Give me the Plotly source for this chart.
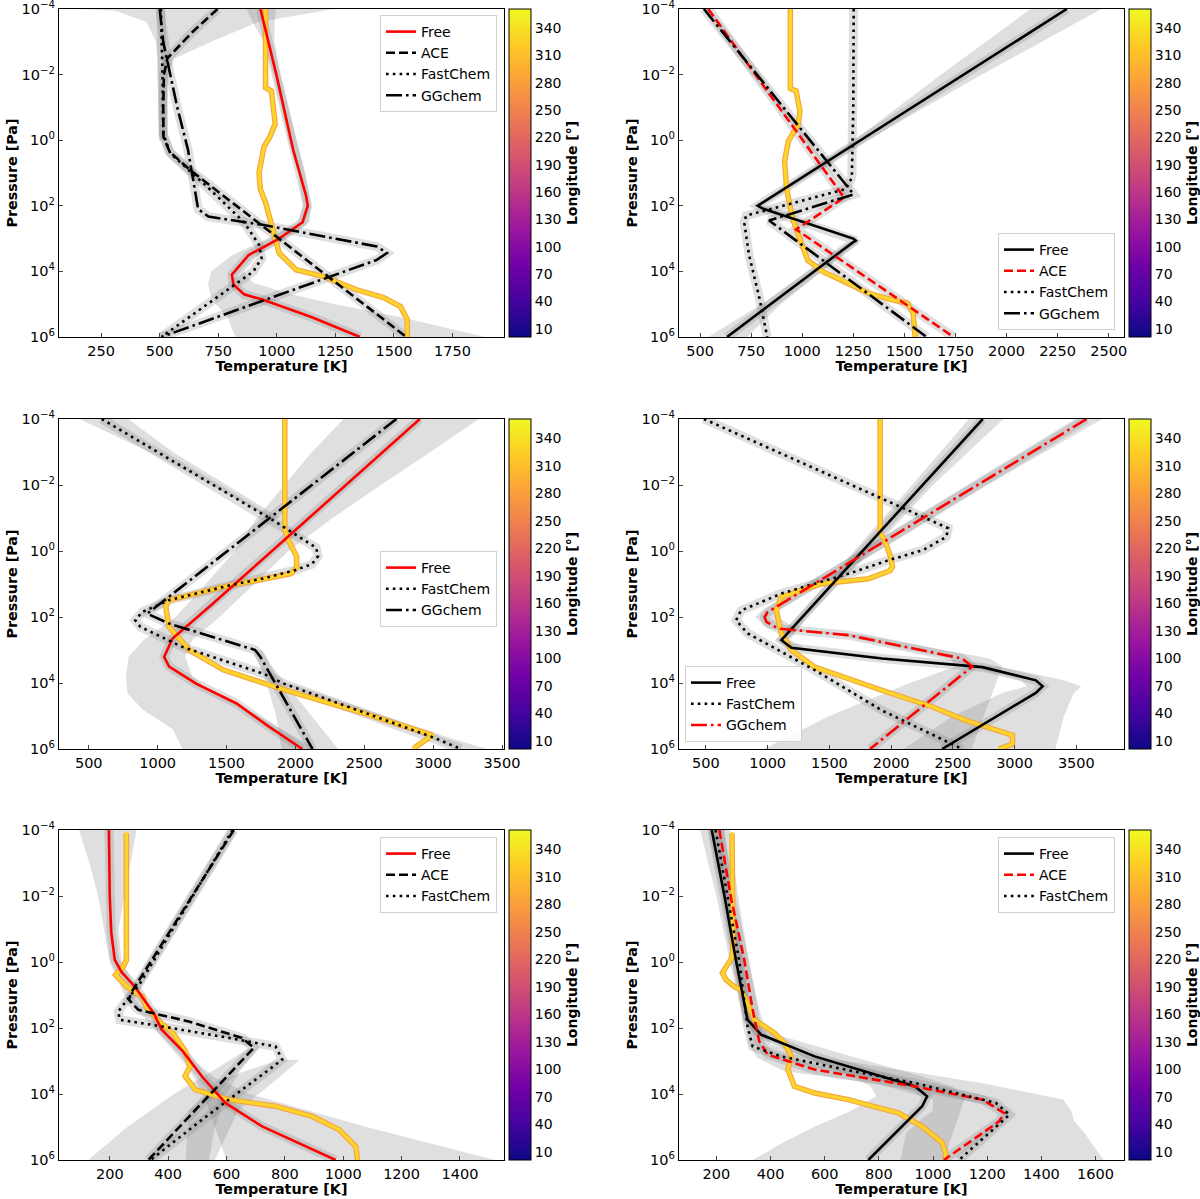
import numpy as np
import plotly.graph_objects as go
from plotly.subplots import make_subplots

# colourbar / axis ticks
CBAR_TICKS = [10, 40, 70, 100, 130, 160, 190, 220, 250, 280, 310, 340]
P_TICKS = [1e-4, 1e-2, 1e0, 1e2, 1e4, 1e6]
P_TICKTEXT = ['10<sup>−4</sup>', '10<sup>−2</sup>', '10<sup>0</sup>',
              '10<sup>2</sup>', '10<sup>4</sup>', '10<sup>6</sup>']

# ---------------- panel 1 (top left) ----------------
P1_FREE_T = [930, 998, 1070, 1108, 1125, 1132, 1110, 1010, 880, 808, 815, 860, 938, 1150, 1355]
P1_FREE_P = [-4, -2, 0.3, 1.3, 1.7, 2.0, 2.5, 3.0, 3.5, 4.1, 4.4, 4.7, 4.86, 5.4, 6.0]
P1_ACE_T = [747, 640, 533, 518, 515, 516, 542, 628, 1553]
P1_ACE_P = [-4, -3.3, -2.5, -2, -1, -0.1, 0.35, 0.9, 6.0]
P1_FAST_T = [505, 510, 512, 515, 545, 700, 860, 925, 935, 900, 507]
P1_FAST_P = [-4, -3, -2, -0.2, 0.4, 1.4, 2.5, 3.2, 3.6, 4.0, 6.0]
P1_GG_T = [500, 515, 530, 575, 621, 645, 664, 708, 938, 1427, 1470, 1427, 507]
P1_GG_P = [-4, -3, -2.5, -1, 0.3, 1.3, 2.1, 2.33, 2.58, 3.24, 3.44, 3.65, 6.0]
P1_OBS_T = [952, 952, 977, 985, 993, 970, 945, 924, 930, 952, 981, 1010, 1082, 1197, 1341, 1456, 1528, 1557, 1557]
P1_OBS_P = [-4, -1.6, -1.5, -1.0, -0.5, -0.1, 0.2, 1.0, 1.5, 1.9, 2.7, 3.44, 3.95, 4.15, 4.56, 4.8, 5.07, 5.47, 6.0]
P1_OBS_LON = 330
P1_BAND_ACE_P = [-4, -3.95, -3.6, -3.0, -2.5, -2.0, -1.0, 0]
P1_BAND_ACE_LO = [146, 311, 443, 484, 490, 492, 495, 497]
P1_BAND_ACE_HI = [1248, 1200, 920, 720, 565, 535, 530, 530]
P1_BAND_FREE_P = [-4, -3.5, -3, -2, 0, 1, 2, 2.5, 3, 3.5, 4, 4.35, 4.7, 5, 5.4, 6]
P1_BAND_FREE_LO = [870, 905, 945, 985, 1050, 1090, 1112, 1090, 960, 810, 720, 707, 715, 740, 790, 823]
P1_BAND_FREE_HI = [995, 990, 990, 1015, 1085, 1122, 1145, 1140, 1040, 920, 860, 900, 1060, 1250, 1530, 1890]

# ---------------- panel 2 (top right) ----------------
P2_FREE_T = [2295, 800, 782, 805, 1250, 1262, 1245, 632]
P2_FREE_P = [-4, 1.93, 2.0, 2.08, 3.0, 3.06, 3.13, 6.0]
P2_ACE_T = [540, 1205, 970, 1741]
P2_ACE_P = [-4, 1.75, 2.72, 6.0]
P2_FAST_T = [1252, 1250, 1243, 1214, 726, 716, 740, 790, 829]
P2_FAST_P = [-4, -1, 1.14, 1.49, 2.3, 2.5, 3.5, 4.8, 6.0]
P2_GG_T = [519, 1252, 838, 1609]
P2_GG_P = [-4, 1.65, 2.45, 6.0]
P2_OBS_T = [942, 942, 970, 989, 980, 932, 914, 923, 951, 980, 1027, 1102, 1196, 1327, 1440, 1515, 1543, 1553]
P2_OBS_P = [-4, -1.58, -1.5, -0.88, -0.47, 0.03, 0.64, 1.44, 2.35, 2.85, 3.66, 4.01, 4.27, 4.67, 4.87, 4.97, 5.27, 6.0]
P2_OBS_LON = 330
P2_BAND_FREE_P = [-4, -2, 0, 2, 3.06, 4, 5, 6]
P2_BAND_FREE_LO = [2117, 1680, 1255, 765, 1240, 1025, 800, 540]
P2_BAND_FREE_HI = [2464, 1880, 1320, 805, 1290, 1095, 895, 730]

# ---------------- panel 3 (middle left) ----------------
P3_FREE_T = [2903, 2370, 1830, 1400, 1290, 1108, 1047, 1083, 1279, 1573, 1800, 2050]
P3_FREE_P = [-4, -2, 0, 1.6, 2.0, 2.65, 3.21, 3.5, 4.02, 4.62, 5.3, 6.0]
P3_FAST_T = [594, 1019, 1445, 1850, 2150, 2165, 2120, 1990, 1769, 1524, 1083, 887, 838, 875, 1181, 1769, 1916, 2995, 3203]
P3_FAST_P = [-4, -2.95, -1.9, -0.9, -0.1, 0.15, 0.4, 0.59, 0.83, 1.04, 1.49, 1.85, 2.1, 2.3, 2.91, 3.72, 4.02, 5.64, 6.0]
P3_GG_T = [2733, 924, 1083, 1708, 1745, 2124]
P3_GG_P = [-4, 1.9, 2.2, 3.0, 3.2, 6.0]
P3_OBS_T = [1923, 1923, 1952, 2009, 2009, 1966, 1769, 1524, 1083, 1059, 1083, 1230, 1475, 1892, 2504, 2995, 2872, 2860]
P3_OBS_P = [-4, -0.64, -0.3, 0.17, 0.5, 0.69, 0.85, 1.04, 1.49, 1.7, 2.3, 3.0, 3.6, 4.17, 4.93, 5.58, 5.94, 6.0]
P3_OBS_LON = 330
P3_BAND_FREE_P = [-4, -3, -2, -1, 0, 1, 2, 2.7, 3.2, 3.8, 4.3, 4.8, 5.4, 6]
P3_BAND_FREE_LO = [2350, 2120, 1920, 1720, 1560, 1350, 1130, 900, 790, 770, 780, 890, 1110, 1180]
P3_BAND_FREE_HI = [3330, 2980, 2620, 2270, 1950, 1700, 1450, 1250, 1200, 1250, 1400, 1650, 1900, 2150]
P3_BAND_GG_P = [3.0, 3.5, 4, 5, 6]
P3_BAND_GG_LO = [1690, 1740, 1790, 1860, 1900]
P3_BAND_GG_HI = [1760, 1830, 1930, 2120, 2310]
P3_BAND_FASTTOP_P = [-4, -3, -2, -1]
P3_BAND_FASTTOP_LO = [432, 940, 1390, 1810]
P3_BAND_FASTTOP_HI = [787, 1110, 1500, 1890]
P3_BAND_FASTBOT_P = [4, 5, 5.64, 6]
P3_BAND_FASTBOT_LO = [1890, 2500, 2950, 3150]
P3_BAND_FASTBOT_HI = [1950, 2650, 3100, 3390]

# ---------------- panel 4 (middle right) ----------------
P4_FREE_T = [2742, 1111, 1192, 1925, 2739, 3172, 3227, 3172, 2413]
P4_FREE_P = [-4, 2.7, 2.93, 3.26, 3.52, 3.92, 4.1, 4.3, 6.0]
P4_FAST_T = [484, 1000, 1500, 2000, 2384, 2462, 2447, 2260, 1979, 1653, 1111, 785, 744, 839, 1382, 1925, 2576]
P4_FAST_P = [-4, -3.14, -2.31, -1.48, -0.84, -0.69, -0.43, -0.03, 0.28, 0.69, 1.29, 1.8, 2.1, 2.5, 3.61, 4.83, 6.0]
P4_GG_T = [3583, 1000, 975, 990, 1084, 1653, 2576, 2657, 1829]
P4_GG_P = [-4, 1.85, 2.0, 2.15, 2.35, 2.55, 3.26, 3.5, 6.0]
P4_OBS_T = [1911, 1911, 1948, 1995, 2011, 1990, 1925, 1816, 1436, 1111, 1070, 1111, 1192, 1382, 1925, 2332, 2603, 2983, 2983, 2874]
P4_OBS_P = [-4, -0.54, -0.33, 0.17, 0.47, 0.6, 0.69, 0.84, 0.99, 1.39, 1.8, 2.5, 3.0, 3.52, 4.22, 4.72, 5.13, 5.58, 5.85, 6.0]
P4_OBS_LON = 330
P4_BAND_GG_P = [-4, -2, 0, 1.85, 2.0, 2.35, 2.55, 3.26, 3.5, 4.0, 5.0, 6.0]
P4_BAND_GG_LO = [3490, 2620, 1740, 940, 900, 1000, 1580, 2480, 2520, 2150, 1500, 970]
P4_BAND_GG_HI = [3710, 2780, 1900, 1060, 1080, 1230, 1780, 2800, 2900, 2850, 2750, 2650]
P4_BAND_FREE_P = [-4, -2, 0, 2, 2.7, 2.93, 3.26, 3.52, 3.92, 4.1, 4.3, 5, 6]
P4_BAND_FREE_LO = [2630, 2170, 1700, 1240, 1070, 1150, 1850, 2650, 3050, 3100, 2900, 2500, 2100]
P4_BAND_FREE_HI = [2910, 2340, 1840, 1320, 1180, 1300, 2050, 2900, 3400, 3540, 3480, 3400, 3330]

# ---------------- panel 5 (bottom left) ----------------
P5_FREE_T = [197, 200, 205, 217, 240, 286, 351, 378, 450, 516, 596, 722, 974]
P5_FREE_P = [-4, -2, -0.9, -0.07, 0.3, 0.75, 1.56, 2.05, 2.7, 3.47, 4.27, 4.98, 6.0]
P5_ACE_T = [625, 272, 266, 298, 470, 653, 694, 332]
P5_ACE_P = [-4, 0.95, 1.15, 1.45, 1.8, 2.3, 2.6, 6.0]
P5_FAST_T = [621, 300, 272, 229, 234, 378, 608, 768, 791, 516, 340]
P5_FAST_P = [-4, 0.7, 1.0, 1.5, 1.75, 1.95, 2.3, 2.56, 2.96, 4.78, 6.0]
P5_OBS_T = [257, 257, 246, 220, 259, 312, 325, 365, 417, 457, 475, 458, 493, 608, 768, 894, 986, 1043, 1049]
P5_OBS_P = [-3.9, -0.06, 0.14, 0.39, 0.75, 1.05, 1.35, 1.76, 2.16, 2.67, 3.16, 3.46, 3.87, 4.17, 4.37, 4.68, 5.08, 5.59, 6.0]
P5_OBS_LON = 330
P5_BAND_FREE_P = [-4, -3, -2, -1, 0, 1, 2, 3, 3.5, 4, 4.5, 5, 5.5, 6]
P5_BAND_FREE_LO = [95, 130, 160, 180, 200, 250, 350, 450, 490, 520, 540, 560, 580, 600]
P5_BAND_FREE_HI = [292, 270, 250, 230, 240, 310, 400, 490, 560, 680, 880, 1080, 1300, 1520]
P5_BAND_ACE_P = [2.6, 3.26, 4, 5, 6]
P5_BAND_ACE_LO = [680, 560, 420, 260, 126]
P5_BAND_ACE_HI = [710, 650, 600, 560, 540]
P5_BAND_FAST_P = [2.96, 3.5, 4.5, 6]
P5_BAND_FAST_LO = [780, 600, 470, 460]
P5_BAND_FAST_HI = [850, 780, 640, 560]

# ---------------- panel 6 (bottom right) ----------------
P6_FREE_T = [183, 230, 272, 315, 365, 563, 811, 934, 978, 960, 761]
P6_FREE_P = [-4, -2, -0.07, 1.75, 2.2, 2.86, 3.47, 3.77, 4.07, 4.37, 6.0]
P6_ACE_T = [211, 255, 303, 334, 358, 390, 563, 934, 1182, 1263, 1244, 1040]
P6_ACE_P = [-4, -1.9, -0.07, 1.45, 2.4, 2.81, 3.26, 3.77, 4.17, 4.58, 4.83, 6.0]
P6_FAST_T = [197, 240, 285, 315, 334, 439, 700, 934, 1232, 1282, 1096]
P6_FAST_P = [-4, -2, 0, 1.95, 2.56, 2.86, 3.3, 3.67, 4.27, 4.63, 6.0]
P6_OBS_T = [258, 261, 261, 253, 222, 235, 265, 290, 315, 340, 414, 451, 476, 464, 488, 563, 687, 873, 959, 1034, 1046, 1046]
P6_OBS_P = [-3.9, -1.9, -0.3, -0.07, 0.33, 0.53, 0.74, 0.84, 1.24, 1.75, 2.15, 2.45, 2.86, 3.26, 3.77, 3.97, 4.17, 4.58, 4.98, 5.48, 5.79, 6.0]
P6_OBS_LON = 330
P6_BAND_FREE_P = [-4, -2, 0, 1.75, 2.2, 2.86, 3.47, 3.77, 4.07, 4.5, 5, 5.5, 6]
P6_BAND_FREE_LO = [140, 200, 250, 300, 340, 520, 700, 770, 790, 700, 560, 440, 334]
P6_BAND_FREE_HI = [230, 260, 300, 330, 420, 700, 960, 1070, 1120, 1100, 1080, 1060, 1050]
P6_BAND_ACE_P = [-4, -2, 0, 1.5, 2.5, 2.9, 3.3, 3.7, 4.17, 4.5, 4.8, 5.2, 6]
P6_BAND_ACE_LO = [170, 220, 260, 300, 320, 350, 450, 800, 1000, 1000, 950, 900, 880]
P6_BAND_ACE_HI = [250, 280, 320, 360, 400, 600, 900, 1200, 1480, 1510, 1520, 1560, 1630]

DASH = {'solid': None, 'dashed': '9px,4px', 'dotted': '2.6px,4.2px',
        'dashdot': '16px,4px,2.6px,4px'}
SHADE = 'rgba(128,128,128,0.25)'

PANELS = [
    dict(xr=[70, 1970], dtick=250,
         lines=[('Free', 'red', 'solid', P1_FREE_T, P1_FREE_P),
                ('ACE', 'black', 'dashed', P1_ACE_T, P1_ACE_P),
                ('FastChem', 'black', 'dotted', P1_FAST_T, P1_FAST_P),
                ('GGchem', 'black', 'dashdot', P1_GG_T, P1_GG_P)],
         bands=[(P1_BAND_ACE_P, P1_BAND_ACE_LO, P1_BAND_ACE_HI),
                (P1_BAND_FREE_P, P1_BAND_FREE_LO, P1_BAND_FREE_HI)],
         obs=(P1_OBS_T, P1_OBS_P, P1_OBS_LON),
         leg=(497, 15, 'right', 'top')),
    dict(xr=[397, 2575], dtick=250,
         lines=[('Free', 'black', 'solid', P2_FREE_T, P2_FREE_P),
                ('ACE', 'red', 'dashed', P2_ACE_T, P2_ACE_P),
                ('FastChem', 'black', 'dotted', P2_FAST_T, P2_FAST_P),
                ('GGchem', 'black', 'dashdot', P2_GG_T, P2_GG_P)],
         bands=[(P2_BAND_FREE_P, P2_BAND_FREE_LO, P2_BAND_FREE_HI)],
         obs=(P2_OBS_T, P2_OBS_P, P2_OBS_LON),
         leg=(1115, 330, 'right', 'bottom')),
    dict(xr=[284, 3514], dtick=500,
         lines=[('Free', 'red', 'solid', P3_FREE_T, P3_FREE_P),
                ('FastChem', 'black', 'dotted', P3_FAST_T, P3_FAST_P),
                ('GGchem', 'black', 'dashdot', P3_GG_T, P3_GG_P)],
         bands=[(P3_BAND_FREE_P, P3_BAND_FREE_LO, P3_BAND_FREE_HI),
                (P3_BAND_GG_P, P3_BAND_GG_LO, P3_BAND_GG_HI),
                (P3_BAND_FASTTOP_P, P3_BAND_FASTTOP_LO, P3_BAND_FASTTOP_HI),
                (P3_BAND_FASTBOT_P, P3_BAND_FASTBOT_LO, P3_BAND_FASTBOT_HI)],
         obs=(P3_OBS_T, P3_OBS_P, P3_OBS_LON),
         leg=(497, 551, 'right', 'top')),
    dict(xr=[282, 3886], dtick=500,
         lines=[('Free', 'black', 'solid', P4_FREE_T, P4_FREE_P),
                ('FastChem', 'black', 'dotted', P4_FAST_T, P4_FAST_P),
                ('GGchem', 'red', 'dashdot', P4_GG_T, P4_GG_P)],
         bands=[(P4_BAND_GG_P, P4_BAND_GG_LO, P4_BAND_GG_HI),
                (P4_BAND_FREE_P, P4_BAND_FREE_LO, P4_BAND_FREE_HI)],
         obs=(P4_OBS_T, P4_OBS_P, P4_OBS_LON),
         leg=(685, 742, 'left', 'bottom')),
    dict(xr=[26, 1551], dtick=200,
         lines=[('Free', 'red', 'solid', P5_FREE_T, P5_FREE_P),
                ('ACE', 'black', 'dashed', P5_ACE_T, P5_ACE_P),
                ('FastChem', 'black', 'dotted', P5_FAST_T, P5_FAST_P)],
         bands=[(P5_BAND_FREE_P, P5_BAND_FREE_LO, P5_BAND_FREE_HI),
                (P5_BAND_ACE_P, P5_BAND_ACE_LO, P5_BAND_ACE_HI),
                (P5_BAND_FAST_P, P5_BAND_FAST_LO, P5_BAND_FAST_HI)],
         obs=(P5_OBS_T, P5_OBS_P, P5_OBS_LON),
         leg=(497, 837, 'right', 'top')),
    dict(xr=[62, 1705], dtick=200,
         lines=[('Free', 'black', 'solid', P6_FREE_T, P6_FREE_P),
                ('ACE', 'red', 'dashed', P6_ACE_T, P6_ACE_P),
                ('FastChem', 'black', 'dotted', P6_FAST_T, P6_FAST_P)],
         bands=[(P6_BAND_FREE_P, P6_BAND_FREE_LO, P6_BAND_FREE_HI),
                (P6_BAND_ACE_P, P6_BAND_ACE_LO, P6_BAND_ACE_HI)],
         obs=(P6_OBS_T, P6_OBS_P, P6_OBS_LON),
         leg=(1115, 837, 'right', 'top')),
]

W, H = 1200, 1199
# plot areas in pixels (left, right) / (top, bottom)
COLS = [(59, 504), (679, 1124)]
ROWS = [(9, 337), (419, 749), (830, 1160)]
CBAR_X = [509, 1129]

FONT = 'DejaVu Sans'

fig = make_subplots(rows=3, cols=2)


def P(logp):
    return 10 ** np.asarray(logp, dtype=float)


for i, pan in enumerate(PANELS):
    r, c = i // 2 + 1, i % 2 + 1
    lg = 'legend' if i == 0 else f'legend{i + 1}'
    ca = 'coloraxis' if i == 0 else f'coloraxis{i + 1}'

    # uncertainty envelopes
    for bp, lo, hi in pan['bands']:
        fig.add_trace(go.Scatter(
            x=list(lo) + list(hi)[::-1], y=P(list(bp) + list(bp)[::-1]),
            mode='lines', fill='toself', fillcolor=SHADE, line=dict(width=0),
            hoverinfo='skip', showlegend=False, legend=lg), row=r, col=c)
    # narrow shadows around each model
    for name, col, dash, t, lp in pan['lines']:
        fig.add_trace(go.Scatter(
            x=t, y=P(lp), mode='lines', line=dict(color=SHADE, width=9),
            hoverinfo='skip', showlegend=False, legend=lg), row=r, col=c)
    # GCM profile coloured by longitude
    ot, op, lon = pan['obs']
    fig.add_trace(go.Scatter(x=ot, y=P(op), mode='lines',
                             line=dict(color='#f4a340', width=5.5),
                             hoverinfo='skip', showlegend=False, legend=lg), row=r, col=c)
    fig.add_trace(go.Scatter(x=ot, y=P(op), mode='lines+markers',
                             line=dict(color='#fcd42c', width=3.3),
                             marker=dict(size=3, color=[lon] * len(ot), coloraxis=ca),
                             showlegend=False, legend=lg), row=r, col=c)
    # retrieved profiles
    for name, col, dash, t, lp in pan['lines']:
        fig.add_trace(go.Scatter(
            x=t, y=P(lp), mode='lines', name=name,
            line=dict(color=col, width=2.6, dash=DASH[dash]),
            legend=lg), row=r, col=c)

    n = i + 1
    x0, x1 = COLS[c - 1]
    y0, y1 = ROWS[r - 1]
    fig.layout[f'xaxis{n}'].update(
        domain=[x0 / W, x1 / W], range=pan['xr'], dtick=pan['dtick'], tick0=0,
        automargin=False, ticklabeloverflow='allow',
        ticks='inside', ticklen=4, showline=True, mirror=True, linecolor='black',
        linewidth=1.2, showgrid=False, zeroline=False,
        tickfont=dict(size=14.5, color='black'),
        title=dict(text='<b>Temperature [K]</b>', font=dict(size=14.3, color='black'),
                   standoff=3))
    fig.layout[f'yaxis{n}'].update(
        domain=[1 - y1 / H, 1 - y0 / H], type='log', range=[6, -4],
        automargin=False, ticklabeloverflow='allow',
        tickvals=P_TICKS, ticktext=P_TICKTEXT,
        ticks='inside', ticklen=4, showline=True, mirror=True, linecolor='black',
        linewidth=1.2, showgrid=False, zeroline=False,
        tickfont=dict(size=14.5, color='black'),
        title=dict(text='<b>Pressure [Pa]</b>', font=dict(size=14.3, color='black'),
                   standoff=0))
    fig.layout[ca] = dict(
        colorscale='Plasma', cmin=1, cmax=361,
        colorbar=dict(x=CBAR_X[c - 1] / W, xanchor='left', xpad=0, ypad=0,
                      y=1 - (y0 + y1) / 2 / H, yanchor='middle', len=(y1 - y0) / H,
                      thickness=22, outlinecolor='black', outlinewidth=1,
                      tickvals=CBAR_TICKS, ticks='', ticklabeloverflow='allow',
                      tickfont=dict(size=14, color='black'),
                      title=dict(text='<b>Longitude [°]</b>', side='right',
                                 font=dict(size=14, color='black'))))
    lx, ly, xa, ya = pan['leg']
    fig.layout[lg] = dict(
        x=lx / W, y=1 - ly / H, xanchor=xa, yanchor=ya,
        bgcolor='rgba(255,255,255,0.85)', bordercolor='#d0d0d0', borderwidth=1,
        font=dict(size=14, color='black'), tracegroupgap=0)

fig.update_layout(
    width=W, height=H, margin=dict(l=0, r=0, t=0, b=0, autoexpand=False),
    paper_bgcolor='white', plot_bgcolor='white',
    font=dict(family=FONT, color='black'))

# the page body has a default 8px margin; drop it so the figure sits at 0,0
fig.write_html('out.html', config={'displayModeBar': False},
               post_script="document.body.style.margin='0px';")
